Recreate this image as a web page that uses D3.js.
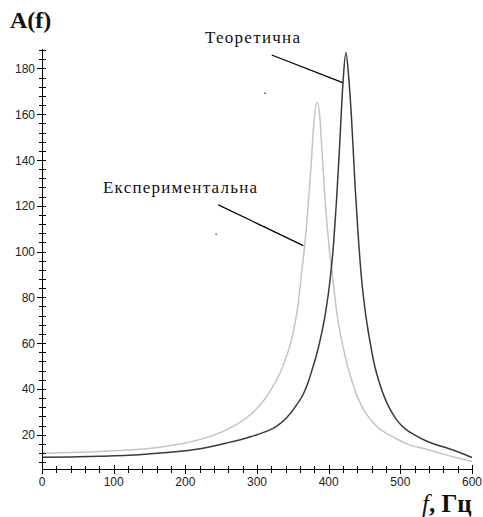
<!DOCTYPE html>
<html><head><meta charset="utf-8">
<script src="https://cdn.jsdelivr.net/npm/d3@7"></script>
<style>html,body{margin:0;padding:0;background:#fff;}</style>
</head><body>
<svg id="chart" width="483" height="517"></svg>
<script>
// Theoretical curve (dark)
const freqTheor = [0, 50, 80, 120, 165, 211, 258, 290, 300, 327, 341, 357, 365, 372, 378, 384, 390, 396, 402, 407, 411, 415, 420, 424, 428, 432, 434, 437, 441, 446, 451, 458, 465, 472, 481, 490, 500, 510, 518, 537, 550, 565, 583, 600];
const ampTheor  = [10.1, 10.3, 10.6, 11.0, 12.0, 13.4, 16.4, 19.0, 20.0, 23.6, 27.3, 33.8, 38.0, 43.5, 49.5, 56.0, 64.0, 74.0, 87.7, 104.0, 122.6, 144.5, 173.8, 187.0, 176.0, 157.5, 146.0, 128.0, 108.0, 87.7, 74.0, 60.0, 49.0, 41.5, 34.0, 28.8, 24.5, 21.8, 20.2, 17.1, 15.6, 14.2, 12.2, 10.0];
// Experimental curve (light)
const freqExp = [0, 80, 158, 211, 258, 286, 300, 312, 322, 330, 338, 346, 352, 357, 362, 367, 372, 376, 379, 384, 388, 391, 395, 400, 406, 411, 416, 420, 425, 432, 439, 446, 455, 462, 470, 480, 490, 509, 537, 560, 579, 600];
const ampExp  = [12.0, 12.7, 14.3, 17.1, 22.2, 27.5, 31.5, 36.0, 41.0, 45.5, 51.5, 59.0, 67.0, 76.0, 90.0, 104.0, 122.6, 140.0, 155.0, 165.0, 157.5, 142.0, 122.6, 104.0, 87.7, 74.0, 64.5, 58.6, 51.5, 44.0, 37.5, 32.5, 28.0, 25.3, 22.8, 20.7, 19.0, 16.0, 13.6, 11.5, 9.9, 8.3];

const xMajorTicks = [0, 100, 200, 300, 400, 500, 600];
const yMajorTicks = [20, 40, 60, 80, 100, 120, 140, 160, 180];

const labelTheor = "Теоретична";
const labelExp = "Експериментальна";
// annotation anchors in data units [f, A]
const annTheor = {line: [[320.5, 185.9], [419.6, 173.8]], dot: [311, 169.2]};
const annExp = {line: [[246, 120.4], [364.6, 102.6]], dot: [242.8, 107.6]};

const svg = d3.select("#chart");
const x = d3.scaleLinear().domain([0, 600]).range([42, 472]);
const y = d3.scaleLinear().domain([5, 188.5]).range([469, 49]);

// curves
const line = d3.line().x(d => x(d[0])).y(d => y(d[1])).curve(d3.curveMonotoneX);
svg.append("path").datum(freqExp.map((f, i) => [f, ampExp[i]]))
  .attr("d", line).attr("fill", "none").attr("stroke", "#c4c4c4").attr("stroke-width", 1.5);
svg.append("path").datum(freqTheor.map((f, i) => [f, ampTheor[i]]))
  .attr("d", line).attr("fill", "none").attr("stroke", "#3a3a3a").attr("stroke-width", 1.5);

// axes drawn as filled rectangles (1px wide)
const ax = svg.append("g").attr("fill", "#000");
const y0 = Math.round(y(5)), x0 = Math.round(x(0));
ax.append("rect").attr("x", x0).attr("y", y0).attr("width", Math.round(x(600)) - x0 + 1).attr("height", 1);
d3.range(0, 601, 20).forEach(v => {
  const h = v % 100 === 0 ? 4 : 3;
  ax.append("rect").attr("x", Math.round(x(v))).attr("y", y0 - h).attr("width", 1).attr("height", 2 * h + 1);
});
ax.append("rect").attr("x", x0).attr("y", Math.round(y(188.5))).attr("width", 1).attr("height", y0 - Math.round(y(188.5)) + 1);
d3.range(8, 189, 4).forEach(v => {
  const l = v % 20 === 0 ? 5 : 3;
  ax.append("rect").attr("x", x0 - l).attr("y", Math.round(y(v))).attr("width", l + 4).attr("height", 1);
});

xMajorTicks.forEach(v => {
  svg.append("text").attr("x", x(v)).attr("y", 486).attr("text-anchor", "middle")
    .attr("font-family", "Liberation Sans, Arial, sans-serif").attr("font-size", 12).attr("fill", "#222").text(v);
});
yMajorTicks.forEach(v => {
  svg.append("text").attr("x", 35).attr("y", y(v) + 4.5).attr("text-anchor", "end")
    .attr("font-family", "Liberation Sans, Arial, sans-serif").attr("font-size", 12).attr("fill", "#222").text(v);
});

// titles
svg.append("text").attr("x", 10).attr("y", 28).attr("font-family", "Liberation Serif, Times New Roman, serif")
  .attr("font-weight", "bold").attr("font-size", 24).attr("fill", "#111").text("A(f)");
const xt = svg.append("text").attr("x", 422).attr("y", 512).attr("font-family", "Liberation Serif, Times New Roman, serif")
  .attr("font-size", 25).attr("fill", "#111");
xt.append("tspan").attr("font-style", "italic").text("f");
xt.append("tspan").attr("font-weight", "bold").text(", Гц");

// annotations
const annLine = d3.line().x(d => x(d[0])).y(d => y(d[1]));
svg.append("path").attr("d", annLine(annTheor.line)).attr("stroke", "#000").attr("stroke-width", 1.2).attr("fill", "none");
svg.append("path").attr("d", annLine(annExp.line)).attr("stroke", "#000").attr("stroke-width", 1.2).attr("fill", "none");
[annTheor.dot, annExp.dot].forEach(d => {
  svg.append("rect").attr("x", x(d[0]) - 0.5).attr("y", y(d[1]) - 0.5).attr("width", 1.2).attr("height", 1.2).attr("fill", "#000");
});
svg.append("text").attr("x", 205).attr("y", 43).attr("font-family", "Liberation Serif, Times New Roman, serif")
  .attr("font-size", 17).attr("fill", "#111").attr("textLength", 95).attr("lengthAdjust", "spacing").text(labelTheor);
svg.append("text").attr("x", 103).attr("y", 193).attr("font-family", "Liberation Serif, Times New Roman, serif")
  .attr("font-size", 17).attr("fill", "#111").attr("textLength", 154).attr("lengthAdjust", "spacing").text(labelExp);
</script>
</body></html>
